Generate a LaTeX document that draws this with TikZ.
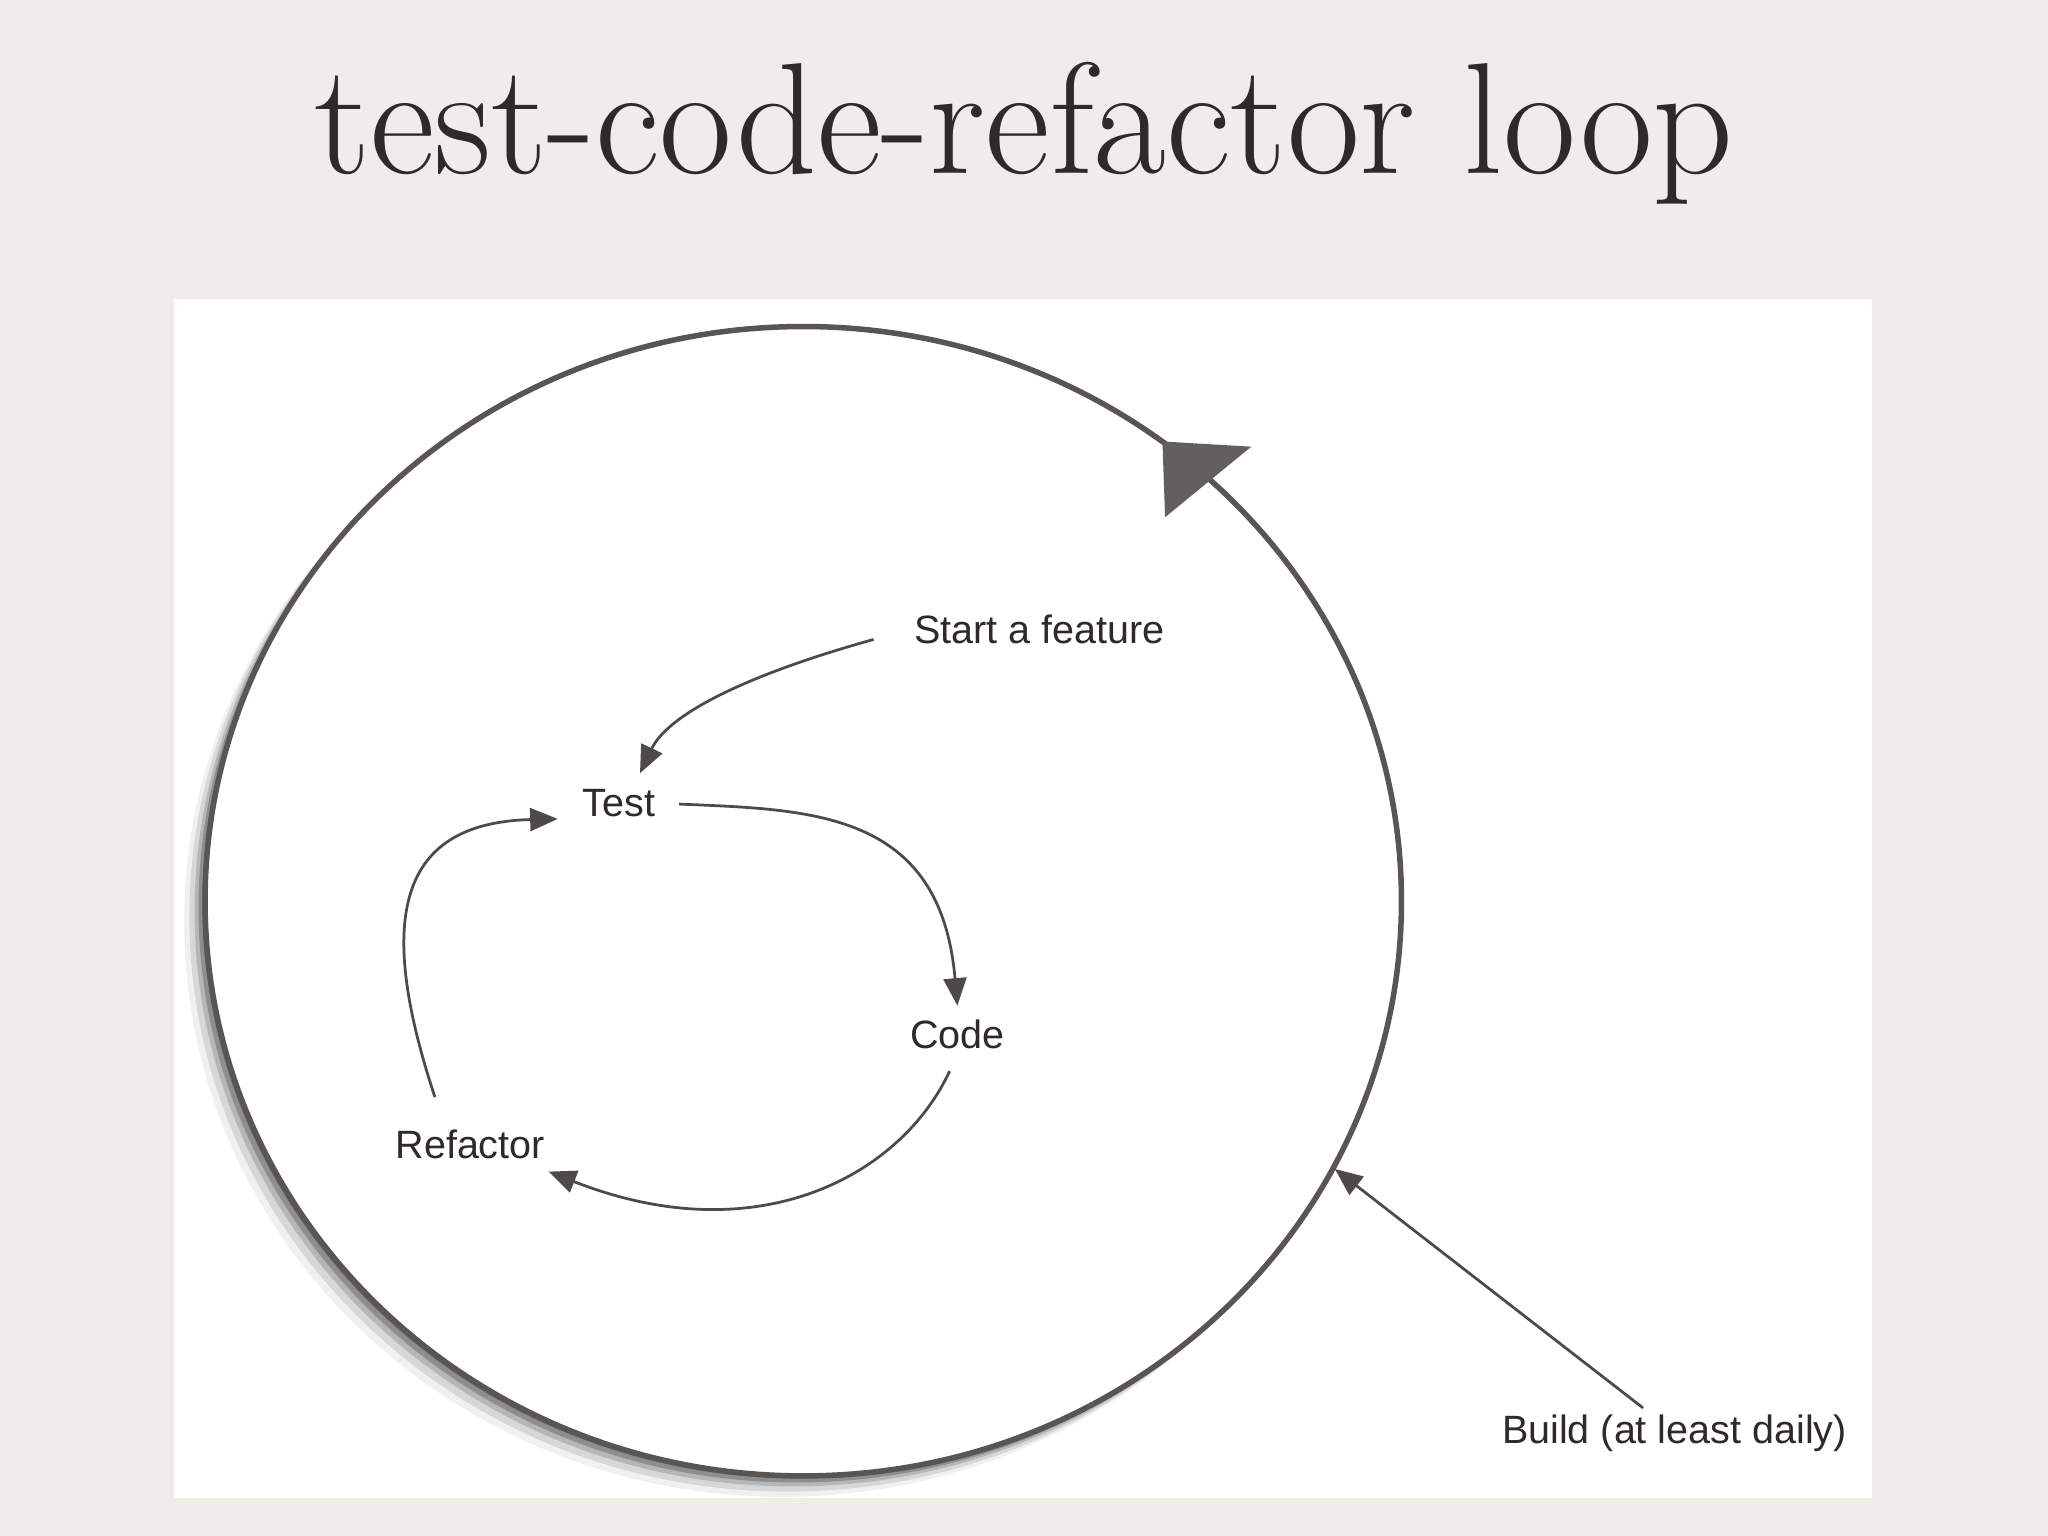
\documentclass[tikz,border=0pt]{standalone}
\usepackage{fontspec}
\setsansfont{Liberation Sans}
\usetikzlibrary{arrows.meta}
\definecolor{bg}{HTML}{EEEDEA}
\definecolor{ink}{HTML}{2E2A28}
\tikzset{
  lbl/.style={font=\sffamily\fontsize{8.6}{10}\selectfont, text=ink, inner sep=1pt},
  flow/.style={draw=ink!85, line width=0.6pt, -{Triangle[length=6pt,width=5pt]}}
}
\begin{document}
\begin{tikzpicture}[x=0.01cm,y=-0.01cm]
\fill[bg] (0,0) rectangle (1568,1176);
\node[text=ink, font=\fontsize{34.5}{40}\selectfont] (title) at (784,102) {test-code-refactor loop};
\fill[white] (133,229) rectangle (1433,1147);
% shadow
\foreach \o/\a in {16/0.06,12/0.10,8/0.15,5/0.22,2/0.3}
  \fill[black, opacity=\a] (615-\o,690+\o) ellipse [x radius=458, y radius=440];
\fill[white] (615,690) ellipse [x radius=458, y radius=440];
\draw[ink!80, line width=1.2pt] (615,690) ellipse [x radius=458, y radius=440];
\fill[ink!75] (890,338) -- (958,342) -- (892,396) -- cycle;
\node[lbl] (start) at (796,482) {Start a feature};
\node[lbl] (test) at (474,615) {Test};
\node[lbl] (code) at (733,792) {Code};
\node[lbl] (ref) at (360,876) {Refactor};
\node[lbl] (build) at (1282,1097) {Build (at least daily)};
\coordinate (bend) at (1022,895);
\draw[flow, shorten <=30pt*0.01/0.01*0+8pt] (start.west) .. controls (560,520) and (510,550) .. (490,592);
\draw[flow, shorten <=4pt] (test.east) .. controls (620,620) and (720,620) .. (733,770);
\draw[flow, shorten <=4pt] (code.south) .. controls (690,900) and (580,960) .. (420,897);
\draw[flow] (333,840) .. controls (290,710) and (300,630) .. (427,627);
\draw[flow] (1258,1078) -- (bend);
\end{tikzpicture}
\end{document}
